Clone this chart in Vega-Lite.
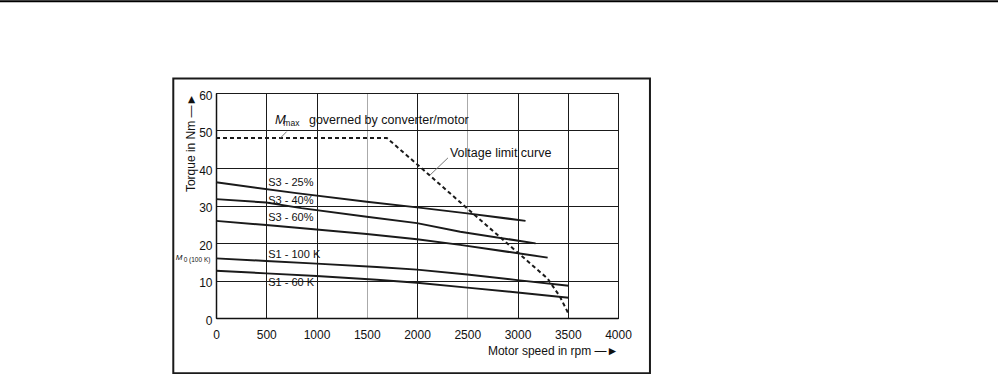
{
  "$schema": "https://vega.github.io/schema/vega-lite/v6.json",
  "width": 402,
  "height": 225,
  "autosize": {"type": "none"},
  "padding": {"left": 216, "top": 93, "right": 380, "bottom": 56},
  "background": "white",
  "config": {
    "view": {"stroke": "#111", "strokeWidth": 1},
    "font": "Liberation Sans",
    "text": {"font": "Liberation Sans", "fontSize": 11, "color": "#111"}
  },
  "datasets": {
    "curves": [
      {"series": "S3 - 25%", "rpm": 0, "torque": 36.2},
      {"series": "S3 - 25%", "rpm": 800, "torque": 33.3},
      {"series": "S3 - 25%", "rpm": 1500, "torque": 31.0},
      {"series": "S3 - 25%", "rpm": 2000, "torque": 29.5},
      {"series": "S3 - 25%", "rpm": 2500, "torque": 27.9},
      {"series": "S3 - 25%", "rpm": 3080, "torque": 25.9},
      {"series": "S3 - 40%", "rpm": 0, "torque": 31.7},
      {"series": "S3 - 40%", "rpm": 500, "torque": 30.8},
      {"series": "S3 - 40%", "rpm": 850, "torque": 29.3},
      {"series": "S3 - 40%", "rpm": 1500, "torque": 27.0},
      {"series": "S3 - 40%", "rpm": 2000, "torque": 25.3},
      {"series": "S3 - 40%", "rpm": 2430, "torque": 23.0},
      {"series": "S3 - 40%", "rpm": 3180, "torque": 19.9},
      {"series": "S3 - 60%", "rpm": 0, "torque": 25.9},
      {"series": "S3 - 60%", "rpm": 500, "torque": 24.8},
      {"series": "S3 - 60%", "rpm": 1000, "torque": 23.6},
      {"series": "S3 - 60%", "rpm": 1500, "torque": 22.4},
      {"series": "S3 - 60%", "rpm": 2000, "torque": 21.0},
      {"series": "S3 - 60%", "rpm": 2430, "torque": 19.5},
      {"series": "S3 - 60%", "rpm": 3300, "torque": 16.1},
      {"series": "S1 - 100 K", "rpm": 0, "torque": 15.9},
      {"series": "S1 - 100 K", "rpm": 500, "torque": 15.2},
      {"series": "S1 - 100 K", "rpm": 1000, "torque": 14.5},
      {"series": "S1 - 100 K", "rpm": 1600, "torque": 13.6},
      {"series": "S1 - 100 K", "rpm": 2000, "torque": 12.9},
      {"series": "S1 - 100 K", "rpm": 2500, "torque": 11.6},
      {"series": "S1 - 100 K", "rpm": 3000, "torque": 10.1},
      {"series": "S1 - 100 K", "rpm": 3510, "torque": 8.6},
      {"series": "S1 - 60 K", "rpm": 0, "torque": 12.6},
      {"series": "S1 - 60 K", "rpm": 500, "torque": 11.9},
      {"series": "S1 - 60 K", "rpm": 1000, "torque": 11.2},
      {"series": "S1 - 60 K", "rpm": 1600, "torque": 10.2},
      {"series": "S1 - 60 K", "rpm": 2000, "torque": 9.4},
      {"series": "S1 - 60 K", "rpm": 2500, "torque": 8.1},
      {"series": "S1 - 60 K", "rpm": 3000, "torque": 6.8},
      {"series": "S1 - 60 K", "rpm": 3510, "torque": 5.4}
    ],
    "limit": [
      {"rpm": 0, "torque": 48.0},
      {"rpm": 1700, "torque": 48.0},
      {"rpm": 2000, "torque": 41.0},
      {"rpm": 2500, "torque": 29.2},
      {"rpm": 3000, "torque": 17.5},
      {"rpm": 3300, "torque": 10.5},
      {"rpm": 3420, "torque": 5.8},
      {"rpm": 3510, "torque": 1.0}
    ],
    "curveLabels": [
      {"text": "S3 - 25%", "rpm": 520, "torque": 35.9},
      {"text": "S3 - 40%", "rpm": 520, "torque": 31.2},
      {"text": "S3 - 60%", "rpm": 520, "torque": 26.6},
      {"text": "S1 - 100 K", "rpm": 520, "torque": 16.8},
      {"text": "S1 - 60 K", "rpm": 520, "torque": 9.4}
    ],
    "notes": [
      {"text": "governed by converter/motor", "rpm": 925, "torque": 52.8},
      {"text": "Voltage limit curve", "rpm": 2328, "torque": 43.9}
    ],
    "mBig": [{"text": "M", "rpm": 587, "torque": 52.8}],
    "subBig": [{"text": "max", "rpm": 670, "torque": 52.1}],
    "mSmall": [{"text": "M", "rpm": -400, "torque": 16.0}],
    "subSmall": [{"text": "0 (100 K)", "rpm": -322, "torque": 15.6}],
    "leaders": [
      {"rpm": 637, "torque": 47.9, "rpm2": 703, "torque2": 49.7},
      {"rpm": 2129, "torque": 38.1, "rpm2": 2308, "torque2": 42.7}
    ],
    "frame": [
      {"rpm": -425, "rpm2": 4318, "torque": -14.7, "torque2": 63.9}
    ],
    "pageRule": [
      {"rpm": -2200, "rpm2": 7800, "torque": 84.5}
    ]
  },
  "encoding": {
    "x": {"field": "rpm", "type": "quantitative", "scale": {"domain": [0, 4000], "nice": false, "zero": false},
      "axis": {
        "values": [0, 500, 1000, 1500, 2000, 2500, 3000, 3500, 4000],
        "format": "d",
        "title": "Motor speed in rpm —►",
        "titleFont": "Liberation Sans", "titleFontSize": 12, "titleFontWeight": "normal", "titleColor": "#111",
        "titleAnchor": "end", "titleAlign": "right", "titleBaseline": "middle", "titleX": 402, "titleY": 32,
        "labelFont": "Liberation Sans", "labelFontSize": 12, "labelColor": "#111", "labelPadding": 11,
        "ticks": false, "domainColor": "#111", "domainWidth": 1.5,
        "grid": true,
        "gridColor": {"condition": {"test": "datum.value == 1500 || datum.value == 2500", "value": "#aaaaaa"}, "value": "#1a1a1a"},
        "gridWidth": 1, "gridOpacity": 1, "labelFlush": false, "labelOverlap": false
      }},
    "y": {"field": "torque", "type": "quantitative", "scale": {"domain": [0, 60], "nice": false, "zero": false},
      "axis": {
        "values": [0, 10, 20, 30, 40, 50, 60],
        "format": "d",
        "title": "Torque in Nm —►",
        "titleFont": "Liberation Sans", "titleFontSize": 12, "titleFontWeight": "normal", "titleColor": "#111",
        "titleAngle": 270, "titleAnchor": "end", "titleAlign": "right", "titleBaseline": "middle", "titleX": -26, "titleY": 0,
        "labelFont": "Liberation Sans", "labelFontSize": 12, "labelColor": "#111", "labelPadding": 4, "labelOffset": 2,
        "ticks": false, "domainColor": "#111", "domainWidth": 1.5,
        "grid": true, "gridColor": "#1a1a1a", "gridWidth": 1, "gridOpacity": 1, "labelFlush": false, "labelOverlap": false
      }}
  },
  "layer": [
    {
      "data": {"name": "frame"},
      "mark": {"type": "rect", "fill": null, "stroke": "#1a1a1a", "strokeWidth": 2, "clip": false},
      "encoding": {
        "x2": {"field": "rpm2"},
        "y2": {"field": "torque2"}
      }
    },
    {
      "data": {"name": "pageRule"},
      "mark": {"type": "rule", "stroke": "#000", "strokeWidth": 2, "clip": false},
      "encoding": {
        "x2": {"field": "rpm2"}
      }
    },
    {
      "data": {"name": "curves"},
      "mark": {"type": "line", "stroke": "#1a1a1a", "strokeWidth": 2},
      "encoding": {
        "detail": {"field": "series"}
      }
    },
    {
      "data": {"name": "limit"},
      "mark": {"type": "line", "stroke": "#1a1a1a", "strokeWidth": 2, "strokeDash": [4, 3]},
      "encoding": {}
    },
    {
      "data": {"name": "leaders"},
      "mark": {"type": "rule", "stroke": "#777", "strokeWidth": 1},
      "encoding": {
        "x2": {"field": "rpm2"},
        "y2": {"field": "torque2"}
      }
    },
    {
      "data": {"name": "curveLabels"},
      "mark": {"type": "text", "align": "left", "baseline": "middle", "fontSize": 11, "clip": false},
      "encoding": {"text": {"field": "text"}}
    },
    {
      "data": {"name": "notes"},
      "mark": {"type": "text", "align": "left", "baseline": "middle", "fontSize": 12.5, "clip": false},
      "encoding": {"text": {"field": "text"}}
    },
    {
      "data": {"name": "mBig"},
      "mark": {"type": "text", "align": "left", "baseline": "middle", "fontStyle": "italic", "fontSize": 13, "clip": false},
      "encoding": {"text": {"field": "text"}}
    },
    {
      "data": {"name": "subBig"},
      "mark": {"type": "text", "align": "left", "baseline": "middle", "fontSize": 8.5, "clip": false},
      "encoding": {"text": {"field": "text"}}
    },
    {
      "data": {"name": "mSmall"},
      "mark": {"type": "text", "align": "left", "baseline": "middle", "fontStyle": "italic", "fontSize": 8, "clip": false},
      "encoding": {"text": {"field": "text"}}
    },
    {
      "data": {"name": "subSmall"},
      "mark": {"type": "text", "align": "left", "baseline": "middle", "fontSize": 6.5, "clip": false},
      "encoding": {"text": {"field": "text"}}
    }
  ]
}
